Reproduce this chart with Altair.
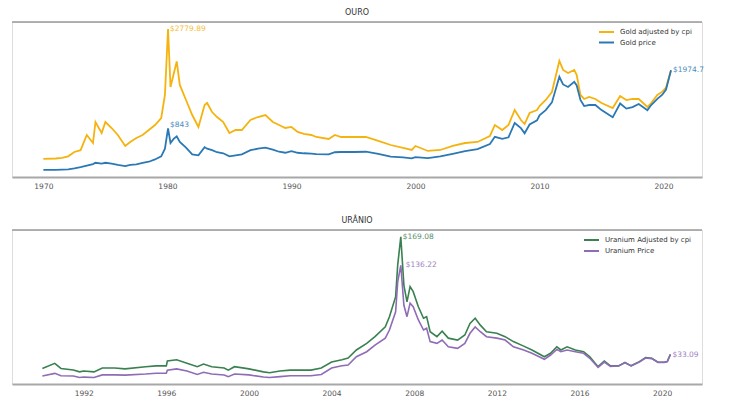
import altair as alt
import pandas as pd

# ---------------- data ----------------
G_YEARS = [1970.0, 1971.0, 1971.5, 1972.0, 1972.5, 1973.0, 1973.5, 1974.0, 1974.2, 1974.7,
           1975.0, 1975.5, 1976.0, 1976.6, 1977.0, 1977.5, 1978.0, 1978.5, 1979.0, 1979.5,
           1979.8, 1980.05, 1980.25, 1980.5, 1980.75, 1981.0, 1981.5, 1982.0, 1982.5, 1983.0,
           1983.2, 1983.6, 1984.0, 1984.5, 1985.0, 1985.5, 1986.0, 1986.7, 1987.3, 1987.9,
           1988.5, 1989.0, 1989.5, 1990.0, 1990.5, 1991.0, 1991.6, 1992.0, 1993.0, 1993.5,
           1994.0, 1995.0, 1996.0, 1997.0, 1998.0, 1999.0, 1999.7, 2000.0, 2001.0, 2002.0,
           2003.0, 2004.0, 2005.0, 2006.0, 2006.4, 2007.0, 2007.5, 2008.0, 2008.5, 2008.8,
           2009.2, 2009.8, 2010.0, 2010.5, 2011.0, 2011.6, 2011.9, 2012.3, 2012.8, 2013.0,
           2013.3, 2013.6, 2014.0, 2014.5, 2015.0, 2015.9, 2016.5, 2017.0, 2017.5, 2018.0,
           2018.7, 2019.0, 2019.5, 2019.9, 2020.2, 2020.6]
G_ADJ = [249, 258, 270, 300, 385, 420, 716, 560, 969, 755,
         969, 852, 716, 502, 580, 658, 716, 813, 911, 1047,
         1495, 2779.89, 1650, 1900, 2150, 1690, 1397, 1105, 872, 1300,
         1339, 1163, 1066, 969, 755, 813, 813, 1008, 1066, 1105,
         969, 911, 852, 872, 775, 736, 716, 677, 638, 716,
         677, 677, 677, 600, 521, 463, 424, 502, 405, 424,
         502, 560, 580, 697, 911, 813, 911, 1202, 1008, 930,
         1144, 1202, 1280, 1397, 1553, 2157, 1982, 1923, 1982, 1884,
         1495, 1417, 1456, 1417, 1339, 1241, 1475, 1397, 1417, 1417,
         1261, 1339, 1495, 1560, 1640, 1974.7]
G_NOM = [35, 38, 42, 48, 65, 90, 120, 150, 175, 160,
         175, 160, 135, 110, 135, 145, 175, 195, 240, 300,
         450, 843, 560, 640, 690, 580, 470, 340, 320, 480,
         450, 420, 380, 360, 300, 320, 340, 420, 450, 470,
         430, 390, 370, 400, 370, 360, 355, 345, 340, 380,
         385, 385, 390, 350, 295, 280, 260, 285, 265, 300,
         350, 400, 440, 540, 680, 640, 670, 950, 850, 750,
         920, 1000, 1100, 1200, 1350, 1850, 1700, 1650, 1750, 1680,
         1400, 1280, 1300, 1300, 1200, 1060, 1330, 1230, 1260, 1320,
         1200, 1300, 1420, 1500, 1600, 1974.7]

U_YEARS = [1990.0, 1990.6, 1990.9, 1991.5, 1991.8, 1992.0, 1992.5, 1992.9, 1993.5, 1994.0,
           1995.0, 1995.5, 1996.0, 1996.05, 1996.5, 1997.0, 1997.5, 1997.8, 1998.2, 1998.8,
           1999.0, 1999.3, 2000.0, 2000.7, 2001.0, 2001.5, 2002.0, 2003.0, 2003.5, 2004.0,
           2004.5, 2004.8, 2005.2, 2005.7, 2006.1, 2006.6, 2006.8, 2007.1, 2007.2, 2007.35,
           2007.5, 2007.65, 2007.8, 2007.95, 2008.2, 2008.45, 2008.6, 2008.77, 2009.1, 2009.35,
           2009.65, 2010.1, 2010.45, 2010.7, 2010.95, 2011.2, 2011.5, 2012.0, 2012.4, 2012.8,
           2013.3, 2013.7, 2014.3, 2014.6, 2014.9, 2015.1, 2015.4, 2015.8, 2016.2, 2016.5,
           2016.9, 2017.2, 2017.5, 2017.9, 2018.2, 2018.5, 2018.9, 2019.2, 2019.5, 2019.8,
           2020.1, 2020.25, 2020.4]
U_ADJ = [17, 22.9, 17, 15.2, 13, 14, 13, 17.5, 17.5, 16.5,
         19, 20, 20, 25.6, 27, 23, 19, 22, 19, 17.5,
         15, 19, 16.5, 13, 12, 14, 15, 15, 17.5, 24.4,
         27, 29, 38.3, 46, 53.7, 65, 76.8, 100, 136.5, 169.08,
         113, 94, 111.5, 105.7, 88.3, 75, 76.8, 59.4, 53.7, 60,
         52, 49.8, 55.6, 69, 75, 67, 59.4, 57.6, 53.7, 48,
         42.8, 38.3, 30.5, 34.5, 42, 38.3, 42, 38.3, 36.3, 30.5,
         19, 25.6, 20, 20, 24, 20, 24.8, 29.5, 28.7, 24.2,
         24.2, 25, 33.2]
U_NOM = [8.2, 11.3, 8.5, 8.2, 6.5, 7, 6.5, 9.5, 9.5, 9.3,
         10.5, 11.5, 11.5, 15, 16.5, 14, 10, 12.5, 10.5, 9.5,
         7.5, 10.5, 9.5, 7, 6.5, 7.5, 8.5, 8.5, 10, 17.5,
         20, 21, 30.5, 36.3, 44, 52, 61.4, 82.5, 117, 136.22,
         90, 76.8, 92.5, 88.3, 73, 61.4, 63.4, 48, 46, 49.8,
         42, 40.2, 46, 57.6, 65, 59.4, 53.7, 52, 49.8, 42,
         38.3, 34.5, 27.5, 32.5, 39, 36.3, 38.3, 36.3, 34.5, 28.7,
         18.3, 24.4, 19.4, 20, 23.5, 20, 24.5, 29, 28.3, 24,
         24, 25, 33.09]

GOLD_SERIES = ["Gold adjusted by cpi", "Gold price"]
GOLD_COLORS = ["#f5b30f", "#2a78b4"]
U_SERIES = ["Uranium Adjusted by cpi", "Uranium Price"]
U_COLORS = ["#3a8050", "#8e6cb6"]

GOLD_TICKS = [1970, 1980, 1990, 2000, 2010, 2020]
U_TICKS = [1992, 1996, 2000, 2004, 2008, 2012, 2016, 2020]

W = 690
FONT = "DejaVu Sans"


def long_df(years, a, b, names):
    return pd.DataFrame({
        "year": list(years) + list(years),
        "value": list(a) + list(b),
        "series": [names[0]] * len(a) + [names[1]] * len(b),
    })


def fmt(v):
    return "$" + ("%g" % v)


def panel(df, names, colors, title, xdom, ticks, ydom, height, leg_x, leg_rows, anns, sw):
    xs = alt.Scale(domain=xdom, nice=False, zero=False)
    ys = alt.Scale(domain=ydom, nice=False, zero=False)
    x = alt.X("year:Q", scale=xs,
              axis=alt.Axis(values=ticks, format="d", title=None, grid=False,
                            ticks=False, labelPadding=5, domainColor="#a8a8a8",
                            domainWidth=2, labelFontSize=7.5, labelColor="#555",
                            labelFont=FONT))
    y = alt.Y("value:Q", scale=ys, axis=None)
    lines = alt.Chart(df).mark_line(strokeWidth=sw).encode(
        x=x, y=y,
        color=alt.Color("series:N", scale=alt.Scale(domain=names, range=colors),
                        legend=None),
        order=alt.Order("year:Q"),
    )
    one = pd.DataFrame({"k": [0]})
    top = alt.Chart(one).mark_rule(color="#9a9a9a", strokeWidth=1.5).encode(
        x=alt.value(0), x2=alt.value(W), y=alt.value(0))
    layers = [top, lines]
    # manual legend
    for name, color, ry in zip(names, colors, leg_rows):
        layers.append(alt.Chart(one).mark_rule(color=color, strokeWidth=2).encode(
            x=alt.value(leg_x), x2=alt.value(leg_x + 15), y=alt.value(ry)))
        layers.append(alt.Chart(pd.DataFrame({"t": [name]})).mark_text(
            align="left", baseline="middle", fontSize=7, font=FONT, color="#333").encode(
            x=alt.value(leg_x + 21), y=alt.value(ry), text="t:N"))
    for (yr, val, color, dx, dy) in anns:
        adf = pd.DataFrame({"year": [yr], "value": [val], "label": [fmt(val)]})
        layers.append(alt.Chart(adf).mark_text(
            align="left", baseline="middle", dx=dx, dy=dy, fontSize=7.5,
            font=FONT, color=color, opacity=0.85).encode(
            x=alt.X("year:Q", scale=xs), y=alt.Y("value:Q", scale=ys), text="label:N"))
    return alt.layer(*layers).properties(
        width=W, height=height,
        title=alt.TitleParams(title, fontSize=8, font=FONT, fontWeight="normal",
                              color="#333", anchor="middle", offset=4))


gold_df = long_df(G_YEARS, G_ADJ, G_NOM, GOLD_SERIES)
u_df = long_df(U_YEARS, U_ADJ, U_NOM, U_SERIES)

g_peak_i = G_ADJ.index(max(G_ADJ))
gn_peak_i = G_NOM.index(max(G_NOM[:40]))
u_peak_i = U_ADJ.index(max(U_ADJ))
un_peak_i = U_NOM.index(max(U_NOM))

gold_anns = [
    (G_YEARS[g_peak_i], G_ADJ[g_peak_i], GOLD_COLORS[0], 2, 0),
    (G_YEARS[gn_peak_i], G_NOM[gn_peak_i], GOLD_COLORS[1], 2, -3),
    (G_YEARS[-1], G_NOM[-1], GOLD_COLORS[1], 2, 0),
]
u_anns = [
    (U_YEARS[u_peak_i], U_ADJ[u_peak_i], U_COLORS[0], 2, 0),
    (U_YEARS[un_peak_i], U_NOM[un_peak_i], U_COLORS[1], 5, 0),
    (U_YEARS[-1], U_NOM[-1], U_COLORS[1], 2, 0),
]

gold = panel(gold_df, GOLD_SERIES, GOLD_COLORS, "OURO", [1967.47, 2023.1], GOLD_TICKS,
             [-102, 2916], 155, 587, [10, 20.5], gold_anns, 1.8)
uran = panel(u_df, U_SERIES, U_COLORS, "URÂNIO", [1988.53, 2021.93], U_TICKS,
             [-1, 177], 154, 572, [10, 21], u_anns, 1.6)

chart = alt.vconcat(gold, uran, spacing=26).resolve_scale(
    color="independent", x="independent", y="independent"
).properties(
    padding={"left": 2, "top": 0, "right": 0, "bottom": 0}
).configure_view(stroke=None).configure(font=FONT, background="white")

chart.save("out.html", embed_options={"renderer": "svg", "actions": False})
